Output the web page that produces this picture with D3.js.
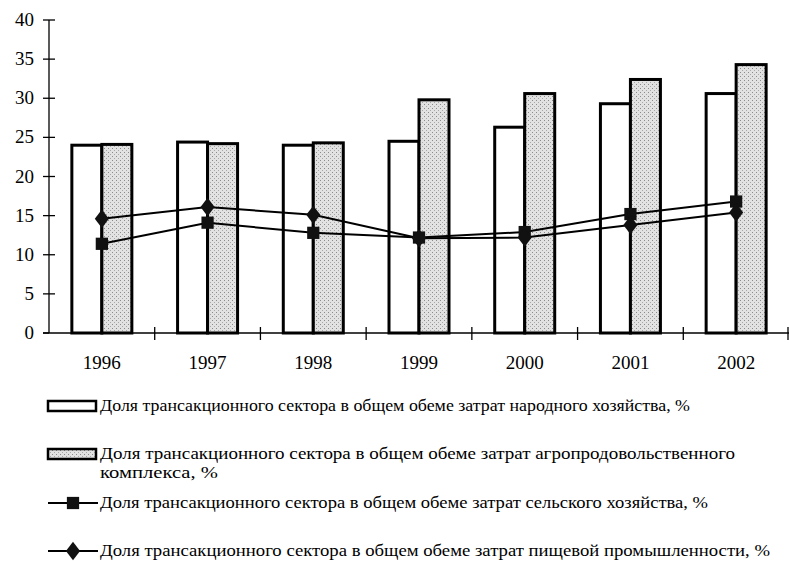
<!DOCTYPE html>
<html>
<head>
<meta charset="utf-8">
<script src="https://cdn.jsdelivr.net/npm/d3@7"></script>
<style>
    body { margin: 0; background: #fff; }
</style>
</head>
<body>
<svg id="chart" width="789" height="561"></svg>
<script>
// data
var years = ["1996", "1997", "1998", "1999", "2000", "2001", "2002"];
var national = [24.0, 24.4, 24.0, 24.5, 26.3, 29.3, 30.6];     // народного хозяйства
var agroFood = [24.1, 24.2, 24.3, 29.8, 30.6, 32.4, 34.3];     // агропродовольственного комплекса
var agriculture = [11.4, 14.1, 12.8, 12.2, 12.9, 15.2, 16.8];  // сельского хозяйства
var foodIndustry = [14.6, 16.1, 15.1, 12.1, 12.2, 13.8, 15.4]; // пищевой промышленности
var yTicks = [0, 5, 10, 15, 20, 25, 30, 35, 40];
var legendLabels = [
    ["Доля трансакционного сектора в общем обеме затрат народного хозяйства, %"],
    ["Доля трансакционного сектора в общем обеме затрат агропродовольственного", "комплекса, %"],
    ["Доля трансакционного сектора в общем обеме затрат сельского хозяйства, %"],
    ["Доля трансакционного сектора в общем обеме затрат пищевой промышленности, %"]
];

(function () {
    var serif = "'Times New Roman', 'Liberation Serif', Tinos, 'DejaVu Serif', serif";
    var svg = d3.select("#chart").style("font-family", serif);
    var margin = {left: 49, right: 789, top: 20, bottom: 333};

    // stippled grey fill, like the scanned print
    var pat = svg.append("defs").append("pattern")
        .attr("id", "stipple").attr("patternUnits", "userSpaceOnUse")
        .attr("width", 4).attr("height", 4);
    pat.append("rect").attr("width", 4).attr("height", 4).attr("fill", "#e2e2e2");
    pat.append("rect").attr("x", 0).attr("y", 0).attr("width", 1).attr("height", 1).attr("fill", "#8a8a8a");
    pat.append("rect").attr("x", 2).attr("y", 2).attr("width", 1).attr("height", 1).attr("fill", "#a8a8a8");

    var x = d3.scaleBand().domain(years).range([margin.left, margin.right]).padding(0);
    var groupWidth = 60;
    var xInner = d3.scaleBand().domain(["nat", "agro"]).range([0, groupWidth]);
    var y = d3.scaleLinear().domain([0, 40]).range([margin.bottom, margin.top]);

    function cx(i) { return x(years[i]) + x.bandwidth() / 2; }

    // bars
    var barData = [];
    years.forEach(function (yr, i) {
        barData.push({year: yr, key: "nat", v: national[i]});
        barData.push({year: yr, key: "agro", v: agroFood[i]});
    });

    svg.append("g").selectAll("rect").data(barData).enter().append("rect")
        .attr("x", function (d) { return x(d.year) + (x.bandwidth() - groupWidth) / 2 + xInner(d.key); })
        .attr("y", function (d) { return y(d.v); })
        .attr("width", xInner.bandwidth())
        .attr("height", function (d) { return y(0) - y(d.v); })
        .attr("fill", function (d) { return d.key === "nat" ? "#fff" : "url(#stipple)"; })
        .attr("stroke", "#000")
        .attr("stroke-width", 3);

    // axes, drawn by hand to get the crossing ticks
    var axes = svg.append("g").attr("stroke", "#000").attr("stroke-width", 1.3);
    axes.append("line").attr("x1", margin.left).attr("x2", margin.left).attr("y1", y(40)).attr("y2", y(0));
    axes.append("line").attr("x1", margin.left - 6).attr("x2", margin.right).attr("y1", y(0)).attr("y2", y(0));

    axes.selectAll(".ytick").data(yTicks).enter().append("line")
        .attr("x1", margin.left - 6)
        .attr("x2", function (d) { return d === 0 ? margin.left : margin.left + 6; })
        .attr("y1", function (d) { return y(d); })
        .attr("y2", function (d) { return y(d); });

    var boundaries = years.slice(1).map(function (yr) { return x(yr); }).concat([margin.right - 1]);
    axes.selectAll(".xtick").data(boundaries).enter().append("line")
        .attr("x1", function (d) { return d; })
        .attr("x2", function (d) { return d; })
        .attr("y1", y(0) - 6)
        .attr("y2", y(0) + 7);

    svg.append("g").selectAll("text").data(yTicks).enter().append("text")
        .attr("x", 34)
        .attr("y", function (d) { return y(d) + 6; })
        .attr("text-anchor", "end")
        .attr("font-family", serif)
        .attr("font-size", 19)
        .text(function (d) { return d; });

    svg.append("g").selectAll("text").data(years).enter().append("text")
        .attr("x", function (d) { return x(d) + x.bandwidth() / 2; })
        .attr("y", 369)
        .attr("text-anchor", "middle")
        .attr("font-family", serif)
        .attr("font-size", 19)
        .text(function (d) { return d; });

    // lines
    var line = d3.line().x(function (d, i) { return cx(i); }).y(function (d) { return y(d); });

    svg.append("path").datum(agriculture).attr("d", line)
        .attr("fill", "none").attr("stroke", "#000").attr("stroke-width", 2);
    svg.append("path").datum(foodIndustry).attr("d", line)
        .attr("fill", "none").attr("stroke", "#000").attr("stroke-width", 2);

    var squareSym = d3.symbol().type(d3.symbolSquare).size(150);
    var diamondSym = d3.symbol().type(d3.symbolDiamond).size(120);

    svg.append("g").selectAll("path").data(agriculture).enter().append("path")
        .attr("d", squareSym)
        .attr("transform", function (d, i) { return "translate(" + cx(i) + "," + y(d) + ")"; })
        .attr("fill", "#111");
    svg.append("g").selectAll("path").data(foodIndustry).enter().append("path")
        .attr("d", diamondSym)
        .attr("transform", function (d, i) { return "translate(" + cx(i) + "," + y(d) + ") scale(1.2,0.9)"; })
        .attr("fill", "#111");

    // legend
    var legendY = [406, 454, 503, 551];
    var rowWidths = [[590], [635, 118], [608], [670]];
    var legend = svg.append("g");
    legendLabels.forEach(function (rows, i) {
        var g = legend.append("g").attr("transform", "translate(0," + legendY[i] + ")");
        if (i < 2) {
            g.append("rect").attr("x", 48).attr("y", -5).attr("width", 48).attr("height", 10)
                .attr("fill", i === 0 ? "#fff" : "url(#stipple)")
                .attr("stroke", "#000").attr("stroke-width", 2.5);
        } else {
            g.append("line").attr("x1", 48).attr("x2", 98).attr("y1", 0).attr("y2", 0)
                .attr("stroke", "#000").attr("stroke-width", 2);
            g.append("path").attr("d", i === 2 ? squareSym : diamondSym)
                .attr("transform", i === 2 ? "translate(73,0)" : "translate(73,0) scale(1.2,0.9)")
                .attr("fill", "#111");
        }
        rows.forEach(function (row, j) {
            g.append("text")
                .attr("x", 100)
                .attr("y", 5 + j * 19)
                .attr("font-family", serif)
                .attr("font-size", 17)
                .attr("textLength", rowWidths[i][j])
                .attr("lengthAdjust", "spacingAndGlyphs")
                .text(row);
        });
    });
})();
</script>
</body>
</html>
